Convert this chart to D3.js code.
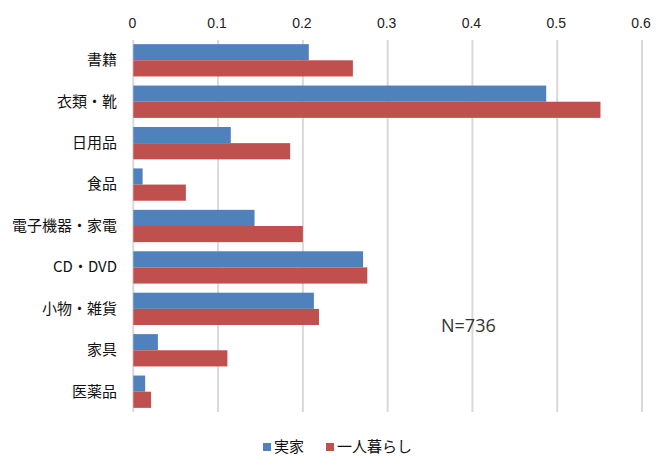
<!DOCTYPE html>
<html>
<head>
<meta charset="utf-8">
<script src="https://cdn.jsdelivr.net/npm/d3@7"></script>
<style>
  html, body { margin: 0; padding: 0; background: #fff; }
  svg { display: block; }
</style>
</head>
<body>
<svg id="chart" width="656" height="471"></svg>
<script>
const categories = ["書籍", "衣類・靴", "日用品", "食品", "電子機器・家電", "CD・DVD", "小物・雑貨", "家具", "医薬品"];
const seriesNames = ["実家", "一人暮らし"];
const jikkaValues = [0.207, 0.487, 0.115, 0.011, 0.143, 0.271, 0.213, 0.029, 0.014];
const hitorigurashiValues = [0.259, 0.551, 0.185, 0.062, 0.200, 0.276, 0.219, 0.111, 0.021];
const tickValues = [0, 0.1, 0.2, 0.3, 0.4, 0.5, 0.6];
const seriesColors = ["#4F81BD", "#C0504D"];
const noteText = "N=736";

(function () {
const svg = d3.select("#chart");
const pLeft = 133.3, pRight = 642, pTop = 40, pBottom = 412;
const jpFont = "'Noto Sans CJK JP', 'Noto Sans', sans-serif";

const x = d3.scaleLinear().domain([0, 0.6]).range([pLeft, pRight]);
const y = d3.scaleBand().domain(categories).range([pTop, pBottom]).paddingInner(0.22).paddingOuter(0.1);
const ySub = d3.scaleBand().domain(seriesNames).range([0, y.bandwidth()]);

// gridlines
svg.append("g").selectAll("line").data(tickValues).join("line")
  .attr("x1", d => x(d)).attr("x2", d => x(d))
  .attr("y1", pTop).attr("y2", pBottom)
  .attr("stroke", "#d9d9d9").attr("stroke-width", 2);

// top axis labels
const axis = d3.axisTop(x).tickValues(tickValues).tickSize(0).tickPadding(0)
  .tickFormat(d => d === 0 ? "0" : d3.format(".1f")(d));
const ag = svg.append("g").attr("transform", `translate(-1.5, 28)`).call(axis);
ag.select(".domain").remove();
ag.selectAll("text").attr("font-family", "'Liberation Sans', Arial, sans-serif")
  .attr("font-size", 14).attr("fill", "#222");

// bars
const data = categories.map((c, i) => ({ cat: c, values: [
  { s: seriesNames[0], v: jikkaValues[i], c: seriesColors[0] },
  { s: seriesNames[1], v: hitorigurashiValues[i], c: seriesColors[1] }
]}));

const groups = svg.append("g").selectAll("g").data(data).join("g")
  .attr("transform", d => `translate(0, ${y(d.cat)})`);
groups.selectAll("rect").data(d => d.values).join("rect")
  .attr("x", x(0))
  .attr("y", d => ySub(d.s))
  .attr("width", d => x(d.v) - x(0))
  .attr("height", ySub.bandwidth())
  .attr("fill", d => d.c);

// category labels
const yAxis = d3.axisLeft(y).tickSize(0).tickPadding(0);
const yg = svg.append("g").attr("transform", `translate(117, 0)`).call(yAxis);
yg.select(".domain").remove();
yg.selectAll("text").attr("font-family", jpFont).attr("font-size", 15).attr("fill", "#111");

// note
svg.append("text").attr("x", 441).attr("y", 332)
  .attr("font-family", "'Open Sans', sans-serif").attr("font-size", 18).attr("fill", "#333")
  .text(noteText);

// legend
const legendItems = [
  { name: seriesNames[0], color: seriesColors[0], x: 263 },
  { name: seriesNames[1], color: seriesColors[1], x: 326 }
];
const lg = svg.append("g").selectAll("g").data(legendItems).join("g")
  .attr("transform", d => `translate(${d.x}, 447)`);
lg.append("rect").attr("x", 0).attr("y", -4).attr("width", 8).attr("height", 8).attr("fill", d => d.color);
lg.append("text").attr("x", 11).attr("y", 0).attr("dy", "0.35em")
  .attr("font-family", jpFont).attr("font-size", 15).attr("fill", "#111")
  .text(d => d.name);
})();
</script>
</body>
</html>
